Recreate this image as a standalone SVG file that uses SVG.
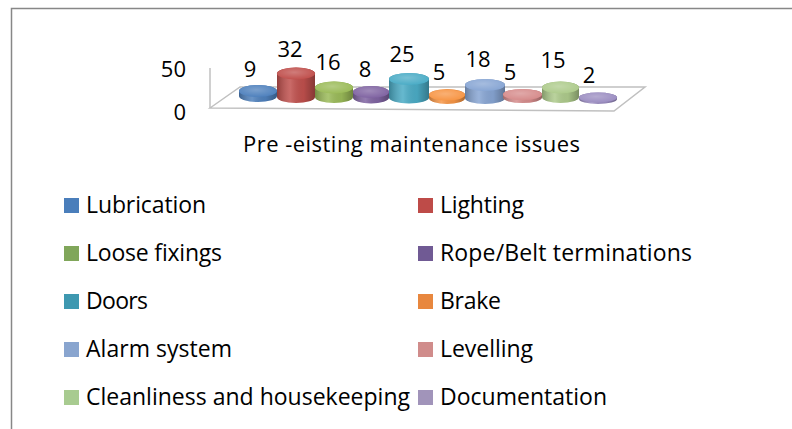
<svg xmlns="http://www.w3.org/2000/svg" width="792" height="429" viewBox="0 0 792 429">
<style>
text{font-family:"Open Sans","Noto Sans",sans-serif;fill:#000}
.lbl{font-size:22px;text-anchor:middle}
.ax{font-size:22px;text-anchor:end}
.leg{font-size:23px}
.grid{fill:#fff;stroke:#c0c0c0;stroke-width:1.5}
.shade{fill:url(#sh)}
.topsh{fill:url(#tsh)}
</style>
<defs>
<linearGradient id="sh" x1="0" y1="0" x2="1" y2="0">
<stop offset="0" stop-color="#000" stop-opacity="0.25"/>
<stop offset="0.35" stop-color="#fff" stop-opacity="0.15"/>
<stop offset="0.7" stop-color="#000" stop-opacity="0.05"/>
<stop offset="1" stop-color="#000" stop-opacity="0.3"/>
</linearGradient>
<radialGradient id="tsh" cx="0.45" cy="0.4" r="0.6">
<stop offset="0" stop-color="#fff" stop-opacity="0.25"/>
<stop offset="1" stop-color="#fff" stop-opacity="0"/>
</radialGradient>
</defs>
<rect width="792" height="429" fill="#fff"/>
<path d="M11.5,429 V8.5 H792" fill="none" stroke="#878787" stroke-width="1.5"/>
<g id="axes">
<line x1="210" y1="68" x2="210" y2="108" stroke="#c0c0c0" stroke-width="1.5"/>
<polygon class="grid" points="210,108 240,87 645,87 614,111"/>
<text class="ax" x="186" y="77">50</text>
<text class="ax" x="186" y="120">0</text>
</g>
<g id="bars">
<g id="bar1"><path d="M239,96 V91 A19,6 0 0 1 277,91 V96 A19,6 0 0 1 239,96 Z" fill="#4F81BD"/><path class="shade" d="M239,96 V91 A19,6 0 0 1 277,91 V96 A19,6 0 0 1 239,96 Z"/><ellipse cx="258" cy="91" rx="19" ry="6" fill="#4F81BD"/><ellipse class="topsh" cx="258" cy="91" rx="19" ry="6"/><text class="lbl" x="250" y="77">9</text></g>
<g id="bar2"><path d="M277,97 V73.5 A19,6 0 0 1 315,73.5 V97 A19,6 0 0 1 277,97 Z" fill="#C0504D"/><path class="shade" d="M277,97 V73.5 A19,6 0 0 1 315,73.5 V97 A19,6 0 0 1 277,97 Z"/><ellipse cx="296" cy="73.5" rx="19" ry="6" fill="#C0504D"/><ellipse class="topsh" cx="296" cy="73.5" rx="19" ry="6"/><text class="lbl" x="290" y="57">32</text></g>
<g id="bar3"><path d="M315,97 V87.5 A19,6 0 0 1 353,87.5 V97 A19,6 0 0 1 315,97 Z" fill="#9BBB59"/><path class="shade" d="M315,97 V87.5 A19,6 0 0 1 353,87.5 V97 A19,6 0 0 1 315,97 Z"/><ellipse cx="334" cy="87.5" rx="19" ry="6" fill="#9BBB59"/><ellipse class="topsh" cx="334" cy="87.5" rx="19" ry="6"/><text class="lbl" x="328" y="70">16</text></g>
<g id="bar4"><path d="M353,97.5 V92 A18,6 0 0 1 389,92 V97.5 A18,6 0 0 1 353,97.5 Z" fill="#8064A2"/><path class="shade" d="M353,97.5 V92 A18,6 0 0 1 389,92 V97.5 A18,6 0 0 1 353,97.5 Z"/><ellipse cx="371" cy="92" rx="18" ry="6" fill="#8064A2"/><ellipse class="topsh" cx="371" cy="92" rx="18" ry="6"/><text class="lbl" x="365" y="77">8</text></g>
<g id="bar5"><path d="M389,97.5 V79 A20,6 0 0 1 429,79 V97.5 A20,6 0 0 1 389,97.5 Z" fill="#4BACC6"/><path class="shade" d="M389,97.5 V79 A20,6 0 0 1 429,79 V97.5 A20,6 0 0 1 389,97.5 Z"/><ellipse cx="409" cy="79" rx="20" ry="6" fill="#4BACC6"/><ellipse class="topsh" cx="409" cy="79" rx="20" ry="6"/><text class="lbl" x="402" y="62">25</text></g>
<g id="bar6"><path d="M429,98 V95 A18,6 0 0 1 465,95 V98 A18,6 0 0 1 429,98 Z" fill="#F79646"/><path class="shade" d="M429,98 V95 A18,6 0 0 1 465,95 V98 A18,6 0 0 1 429,98 Z"/><ellipse cx="447" cy="95" rx="18" ry="5.5" fill="#F79646"/><ellipse class="topsh" cx="447" cy="95" rx="18" ry="5.5"/><text class="lbl" x="439" y="80">5</text></g>
<g id="bar7"><path d="M465,98 V85 A20,6 0 0 1 505,85 V98 A20,6 0 0 1 465,98 Z" fill="#88A6D4"/><path class="shade" d="M465,98 V85 A20,6 0 0 1 505,85 V98 A20,6 0 0 1 465,98 Z"/><ellipse cx="485" cy="85" rx="20" ry="6" fill="#88A6D4"/><ellipse class="topsh" cx="485" cy="85" rx="20" ry="6"/><text class="lbl" x="478" y="67">18</text></g>
<g id="bar8"><path d="M503,97.5 V94.5 A19.5,5.5 0 0 1 542,94.5 V97.5 A19.5,5.5 0 0 1 503,97.5 Z" fill="#D68C8C"/><path class="shade" d="M503,97.5 V94.5 A19.5,5.5 0 0 1 542,94.5 V97.5 A19.5,5.5 0 0 1 503,97.5 Z"/><ellipse cx="522.5" cy="94.5" rx="19.5" ry="5.5" fill="#D68C8C"/><ellipse class="topsh" cx="522.5" cy="94.5" rx="19.5" ry="5.5"/><text class="lbl" x="510" y="80">5</text></g>
<g id="bar9"><path d="M542,97 V87.5 A18.5,6 0 0 1 579,87.5 V97 A18.5,6 0 0 1 542,97 Z" fill="#AECB8C"/><path class="shade" d="M542,97 V87.5 A18.5,6 0 0 1 579,87.5 V97 A18.5,6 0 0 1 542,97 Z"/><ellipse cx="560.5" cy="87.5" rx="18.5" ry="6" fill="#AECB8C"/><ellipse class="topsh" cx="560.5" cy="87.5" rx="18.5" ry="6"/><text class="lbl" x="553" y="68">15</text></g>
<g id="bar10"><path d="M579,99 V97.5 A19,5 0 0 1 617,97.5 V99 A19,5 0 0 1 579,99 Z" fill="#9C8EC2"/><path class="shade" d="M579,99 V97.5 A19,5 0 0 1 617,97.5 V99 A19,5 0 0 1 579,99 Z"/><ellipse cx="598" cy="97.5" rx="19" ry="5" fill="#9C8EC2"/><ellipse class="topsh" cx="598" cy="97.5" rx="19" ry="5"/><text class="lbl" x="589" y="83">2</text></g>
</g>
<g id="title"><text x="243" y="152" font-size="22" textLength="337">Pre -eisting maintenance issues</text></g>
<g id="legend">
<g id="leg-lubrication"><rect x="64" y="198" width="15" height="15" fill="#4A7EBB"/><text class="leg" x="86" y="213" textLength="120">Lubrication</text></g>
<g id="leg-lighting"><rect x="418" y="198" width="15" height="15" fill="#BE4B48"/><text class="leg" x="440" y="213" textLength="84">Lighting</text></g>
<g id="leg-loose"><rect x="64" y="246" width="15" height="15" fill="#80A65A"/><text class="leg" x="86" y="261" textLength="136">Loose fixings</text></g>
<g id="leg-rope"><rect x="418" y="246" width="15" height="15" fill="#705A94"/><text class="leg" x="440" y="261" textLength="252">Rope/Belt terminations</text></g>
<g id="leg-doors"><rect x="64" y="294" width="15" height="15" fill="#3E98B0"/><text class="leg" x="86" y="309" textLength="62">Doors</text></g>
<g id="leg-brake"><rect x="418" y="294" width="15" height="15" fill="#E8873E"/><text class="leg" x="440" y="309" textLength="61">Brake</text></g>
<g id="leg-alarm"><rect x="64" y="342" width="15" height="15" fill="#89A5CF"/><text class="leg" x="86" y="357" textLength="146">Alarm system</text></g>
<g id="leg-levelling"><rect x="418" y="342" width="15" height="15" fill="#D08C8B"/><text class="leg" x="440" y="357" textLength="93">Levelling</text></g>
<g id="leg-clean"><rect x="64" y="390" width="15" height="15" fill="#A8CB90"/><text class="leg" x="86" y="405" textLength="324">Cleanliness and housekeeping</text></g>
<g id="leg-doc"><rect x="418" y="390" width="15" height="15" fill="#A194BA"/><text class="leg" x="440" y="405" textLength="167">Documentation</text></g>
</g>
</svg>
